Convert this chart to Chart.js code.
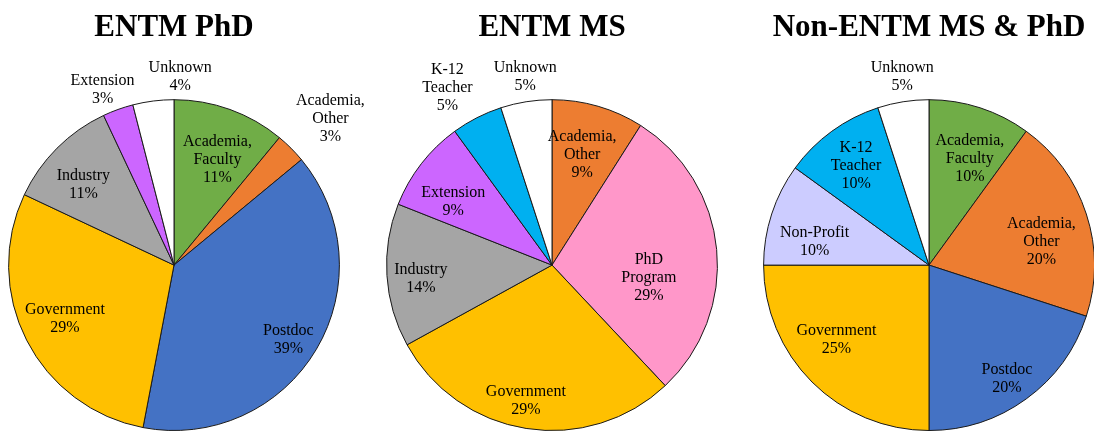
<!DOCTYPE html>
<html>
<head>
<meta charset="utf-8">
<script src="https://cdn.jsdelivr.net/npm/chart.js@4.4.1/dist/chart.umd.min.js"></script>
<style>
  html, body { margin: 0; padding: 0; background: #fff; overflow: hidden; }
  #wrap { position: relative; width: 1094px; height: 431px; overflow: hidden; }
  .pie { position: absolute; top: 0; width: 400px; height: 431px; }
</style>
</head>
<body>
<div id="wrap">
  <div class="pie" style="left:-26px"><canvas id="phd" width="400" height="431"></canvas></div>
  <div class="pie" style="left:352px"><canvas id="ms" width="400" height="431"></canvas></div>
  <div class="pie" style="left:729px"><canvas id="other" width="400" height="431"></canvas></div>
</div>
<script>
// ENTM PhD
const phdLabels = [['Academia,', 'Faculty'], ['Academia,', 'Other'], 'Postdoc', 'Government', 'Industry', 'Extension', 'Unknown'];
const phdValues = [11, 3, 39, 29, 11, 3, 4];

// ENTM MS
const msLabels = [['Academia,', 'Other'], ['PhD', 'Program'], 'Government', 'Industry', 'Extension', ['K-12', 'Teacher'], 'Unknown'];
const msValues = [9, 29, 29, 14, 9, 5, 5];

// Non-ENTM MS & PhD
const otherLabels = [['Academia,', 'Faculty'], ['Academia,', 'Other'], 'Postdoc', 'Government', 'Non-Profit', ['K-12', 'Teacher'], 'Unknown'];
const otherValues = [10, 20, 20, 25, 10, 10, 5];

const colorFor = {
  'Academia, Faculty': '#70ad47',
  'Academia, Other': '#ed7d31',
  'Postdoc': '#4472c4',
  'Government': '#ffc000',
  'Industry': '#a5a5a5',
  'Extension': '#cc66ff',
  'Unknown': '#ffffff',
  'PhD Program': '#ff97c9',
  'K-12 Teacher': '#00b0f0',
  'Non-Profit': '#ccccff',
};

// small pixel nudges so labels sit where Excel's best-fit put them
const phdNudge = [[2, 10], [9, 1], [9, 12], [0, -2], [-4, 6], [-7, 4], [30, 0]];
const msNudge = [[-4, 7], [-25, 24], [-7, 15], [-9, 6], [-2, 12], [-10, 8], [3, 0]];
const otherNudge = [[3, 10], [-4, 15], [6, 15], [-6, -12], [2, 15], [-1, 0], [3, 0]];

const nameOf = (l) => Array.isArray(l) ? l.join(' ') : l;

const sliceLabels = {
  id: 'sliceLabels',
  afterDatasetsDraw(chart, args, opts) {
    const ctx = chart.ctx;
    const ds = chart.data.datasets[0];
    const meta = chart.getDatasetMeta(0);
    const total = ds.data.reduce((a, b) => a + b, 0);
    const nudge = opts.nudge || [];
    ctx.save();
    ctx.font = '16px "Liberation Serif", "Times New Roman", serif';
    ctx.fillStyle = '#000';
    ctx.textAlign = 'center';
    ctx.textBaseline = 'middle';
    meta.data.forEach((arc, i) => {
      const { x, y, startAngle, endAngle, outerRadius } =
        arc.getProps(['x', 'y', 'startAngle', 'endAngle', 'outerRadius'], true);
      const mid = (startAngle + endAngle) / 2;
      const name = chart.data.labels[i];
      const frac = ds.data[i] / total;
      const lines = (Array.isArray(name) ? name : [name]).concat(Math.round(frac * 100) + '%');
      const outside = frac < 0.06;
      const dist = outside ? outerRadius * (0.93 + 0.11 * lines.length) : outerRadius * 0.74;
      const [nx, ny] = nudge[i] || [0, 0];
      const lx = x + Math.cos(mid) * dist + nx;
      const ly = y + Math.sin(mid) * dist + ny;
      lines.forEach((t, k) => ctx.fillText(t, lx, ly + (k - (lines.length - 1) / 2) * 18));
    });
    ctx.restore();
  },
};

function makePie(id, title, labels, values, nudge) {
  return new Chart(document.getElementById(id), {
    type: 'pie',
    data: {
      labels,
      datasets: [{
        data: values,
        backgroundColor: labels.map((l) => colorFor[nameOf(l)]),
        borderColor: '#1a1a1a',
        borderWidth: 1,
      }],
    },
    options: {
      responsive: false,
      animation: false,
      layout: { padding: 0 },
      plugins: {
        legend: { display: false },
        tooltip: { enabled: false },
        title: {
          display: true,
          text: title,
          color: '#000',
          font: { family: '"Liberation Serif", "Times New Roman", serif', size: 31, weight: 'bold', lineHeight: 1.2 },
          padding: { top: 9, bottom: 53 },
        },
        sliceLabels: { nudge },
      },
    },
    plugins: [sliceLabels],
  });
}

makePie('phd', 'ENTM PhD', phdLabels, phdValues, phdNudge);
makePie('ms', 'ENTM MS', msLabels, msValues, msNudge);
makePie('other', 'Non-ENTM MS & PhD', otherLabels, otherValues, otherNudge);
</script>
</body>
</html>
